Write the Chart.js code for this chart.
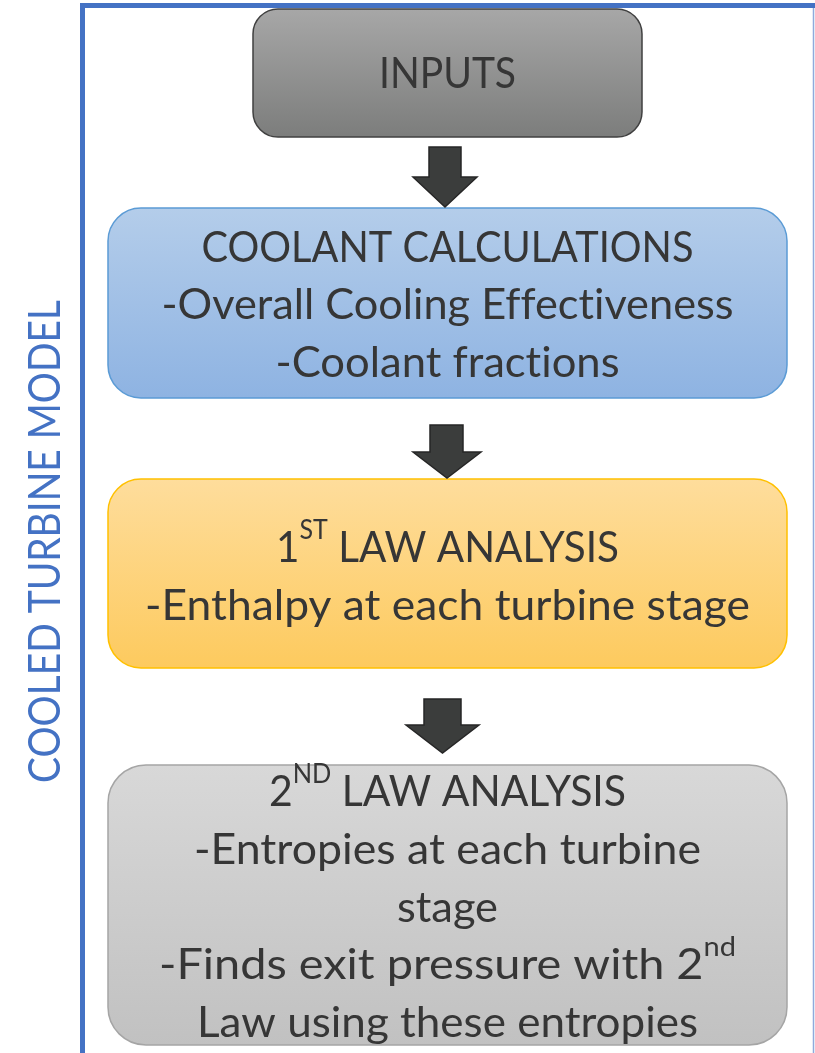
<!DOCTYPE html>
<html>
<head>
<meta charset="utf-8">
<script src="https://cdn.jsdelivr.net/npm/chart.js@4/dist/chart.umd.min.js"></script>
<style>
  html, body { margin: 0; padding: 0; background: #fff; }
  canvas { display: block; }
</style>
</head>
<body>
<canvas id="flowChart" width="815" height="1053"></canvas>
<script>
// texts of the flowchart ("^" toggles superscript)
const sideLabel = 'COOLED TURBINE MODEL';
const stepTitles = ['INPUTS', 'COOLANT CALCULATIONS', '1^ST^ LAW ANALYSIS', '2^ND^ LAW ANALYSIS'];
const stepDetails = [
    [],
    ['-Overall Cooling Effectiveness', '-Coolant fractions'],
    ['-Enthalpy at each turbine stage'],
    ['-Entropies at each turbine', 'stage', '-Finds exit pressure with 2^nd^', 'Law using these entropies']
];

// layout (in scale units, same as pixels here)
const boxLayout = [
    { x0: 253, x1: 642, y0: 9, y1: 137, r: 25, top: '#a7a7a7', bottom: '#7c7d7c', border: '#404040' },
    { x0: 108, x1: 787, y0: 208, y1: 398, r: 33, top: '#b4cdea', bottom: '#8eb3e2', border: '#5b9bd5' },
    { x0: 108, x1: 787, y0: 479, y1: 668, r: 33, top: '#fedd9c', bottom: '#fdca5e', border: '#ffc000' },
    { x0: 108, x1: 787, y0: 765, y1: 1045, r: 38, top: '#d8d8d8', bottom: '#c1c1c1', border: '#a5a5a5' }
];
// baselines and widths of each text line, per box
const textLayout = [
    [{ y: 88, w: 137 }],
    [{ y: 262, w: 492 }, { y: 319, w: 572 }, { y: 377, w: 344 }],
    [{ y: 562, w: 343 }, { y: 620, w: 605 }],
    [{ y: 806, w: 357 }, { y: 864, w: 507 }, { y: 922, w: 101 }, { y: 979, w: 577 }, { y: 1037, w: 501 }]
];
const arrowLayout = [
    { sx0: 429, sx1: 461, top: 147, neck: 177, hx0: 413, hx1: 477, tip: 207 },
    { sx0: 430, sx1: 463, top: 425, neck: 452, hx0: 413, hx1: 481, tip: 478 },
    { sx0: 424, sx1: 461, top: 699, neck: 725, hx0: 406, hx1: 479, tip: 753 }
];

const FONT = 'Lato, "Open Sans", sans-serif';
const TEXT_SIZE = 42;
const SUP_SIZE = 26;
const TEXT_COLOR = '#363636';

function splitSup(str) {
    return str.split('^').map((t, i) => ({ text: t, sup: i % 2 === 1 }));
}

function drawLine(ctx, str, cx, baseline, targetW) {
    const parts = splitSup(str);
    let total = 0;
    parts.forEach(p => {
        ctx.font = (p.sup ? SUP_SIZE : TEXT_SIZE) + 'px ' + FONT;
        p.w = ctx.measureText(p.text).width;
        total += p.w;
    });
    const s = targetW ? targetW / total : 1;
    ctx.save();
    ctx.translate(cx, baseline);
    ctx.scale(s, 1);
    ctx.fillStyle = TEXT_COLOR;
    ctx.textBaseline = 'alphabetic';
    ctx.textAlign = 'left';
    let x = -total / 2;
    parts.forEach(p => {
        ctx.font = (p.sup ? SUP_SIZE : TEXT_SIZE) + 'px ' + FONT;
        ctx.fillText(p.text, x, p.sup ? -23 : 0);
        x += p.w;
    });
    ctx.restore();
}

const flowPlugin = {
    id: 'flow',
    afterDraw(chart) {
        const ctx = chart.ctx;
        const sx = chart.scales.x, sy = chart.scales.y;
        const px = v => sx.getPixelForValue(v);
        const py = v => sy.getPixelForValue(v);
        if ('textRendering' in ctx) ctx.textRendering = 'optimizeSpeed';

        // frame
        ctx.save();
        ctx.strokeStyle = '#4472c4';
        ctx.lineWidth = 5;
        ctx.beginPath();
        ctx.moveTo(px(82.5), py(1060));
        ctx.lineTo(px(82.5), py(5.5));
        ctx.lineTo(px(820), py(5.5));
        ctx.stroke();
        ctx.strokeStyle = '#8faadc';
        ctx.lineWidth = 1.5;
        ctx.beginPath();
        ctx.moveTo(px(813.5), py(8));
        ctx.lineTo(px(813.5), py(1060));
        ctx.stroke();

        // side label
        ctx.save();
        ctx.translate(px(60), py(541.5));
        ctx.rotate(-Math.PI / 2);
        ctx.font = '44px ' + FONT;
        const lw = ctx.measureText(sideLabel).width;
        ctx.scale(483 / lw, 1);
        ctx.fillStyle = '#4472c4';
        ctx.textAlign = 'center';
        ctx.textBaseline = 'alphabetic';
        ctx.fillText(sideLabel, 0, 0);
        ctx.restore();

        // boxes
        boxLayout.forEach((b, i) => {
            const x0 = px(b.x0), x1 = px(b.x1), y0 = py(b.y0), y1 = py(b.y1);
            const g = ctx.createLinearGradient(0, y0, 0, y1);
            g.addColorStop(0, b.top);
            g.addColorStop(1, b.bottom);
            ctx.beginPath();
            ctx.roundRect(x0, y0, x1 - x0, y1 - y0, b.r);
            ctx.fillStyle = g;
            ctx.fill();
            ctx.lineWidth = 1.5;
            ctx.strokeStyle = b.border;
            ctx.stroke();

            const cx = (x0 + x1) / 2;
            const lines = [stepTitles[i]].concat(stepDetails[i]);
            lines.forEach((t, j) => {
                const l = textLayout[i][j];
                drawLine(ctx, t, cx, py(l.y), l.w);
            });
        });

        // arrows
        arrowLayout.forEach(a => {
            const mid = (a.hx0 + a.hx1) / 2;
            ctx.beginPath();
            ctx.moveTo(px(a.sx0), py(a.top));
            ctx.lineTo(px(a.sx1), py(a.top));
            ctx.lineTo(px(a.sx1), py(a.neck));
            ctx.lineTo(px(a.hx1), py(a.neck));
            ctx.lineTo(px(mid), py(a.tip));
            ctx.lineTo(px(a.hx0), py(a.neck));
            ctx.lineTo(px(a.sx0), py(a.neck));
            ctx.closePath();
            ctx.fillStyle = '#3b3d3c';
            ctx.fill();
            ctx.strokeStyle = '#262626';
            ctx.lineWidth = 1.5;
            ctx.stroke();
        });
        ctx.restore();
    }
};

function startChart() {
    new Chart(document.getElementById('flowChart'), {
        type: 'scatter',
        data: { datasets: [{ data: [], pointRadius: 0 }] },
        options: {
            responsive: false,
            animation: false,
            layout: { padding: 0 },
            plugins: { legend: { display: false }, tooltip: { enabled: false } },
            scales: {
                x: { type: 'linear', min: 0, max: 815, display: false },
                y: { type: 'linear', min: 0, max: 1053, reverse: true, display: false }
            }
        },
        plugins: [flowPlugin]
    });
}

if (document.fonts && document.fonts.load) {
    document.fonts.load('42px Lato').then(startChart, startChart);
} else {
    startChart();
}
</script>
</body>
</html>
